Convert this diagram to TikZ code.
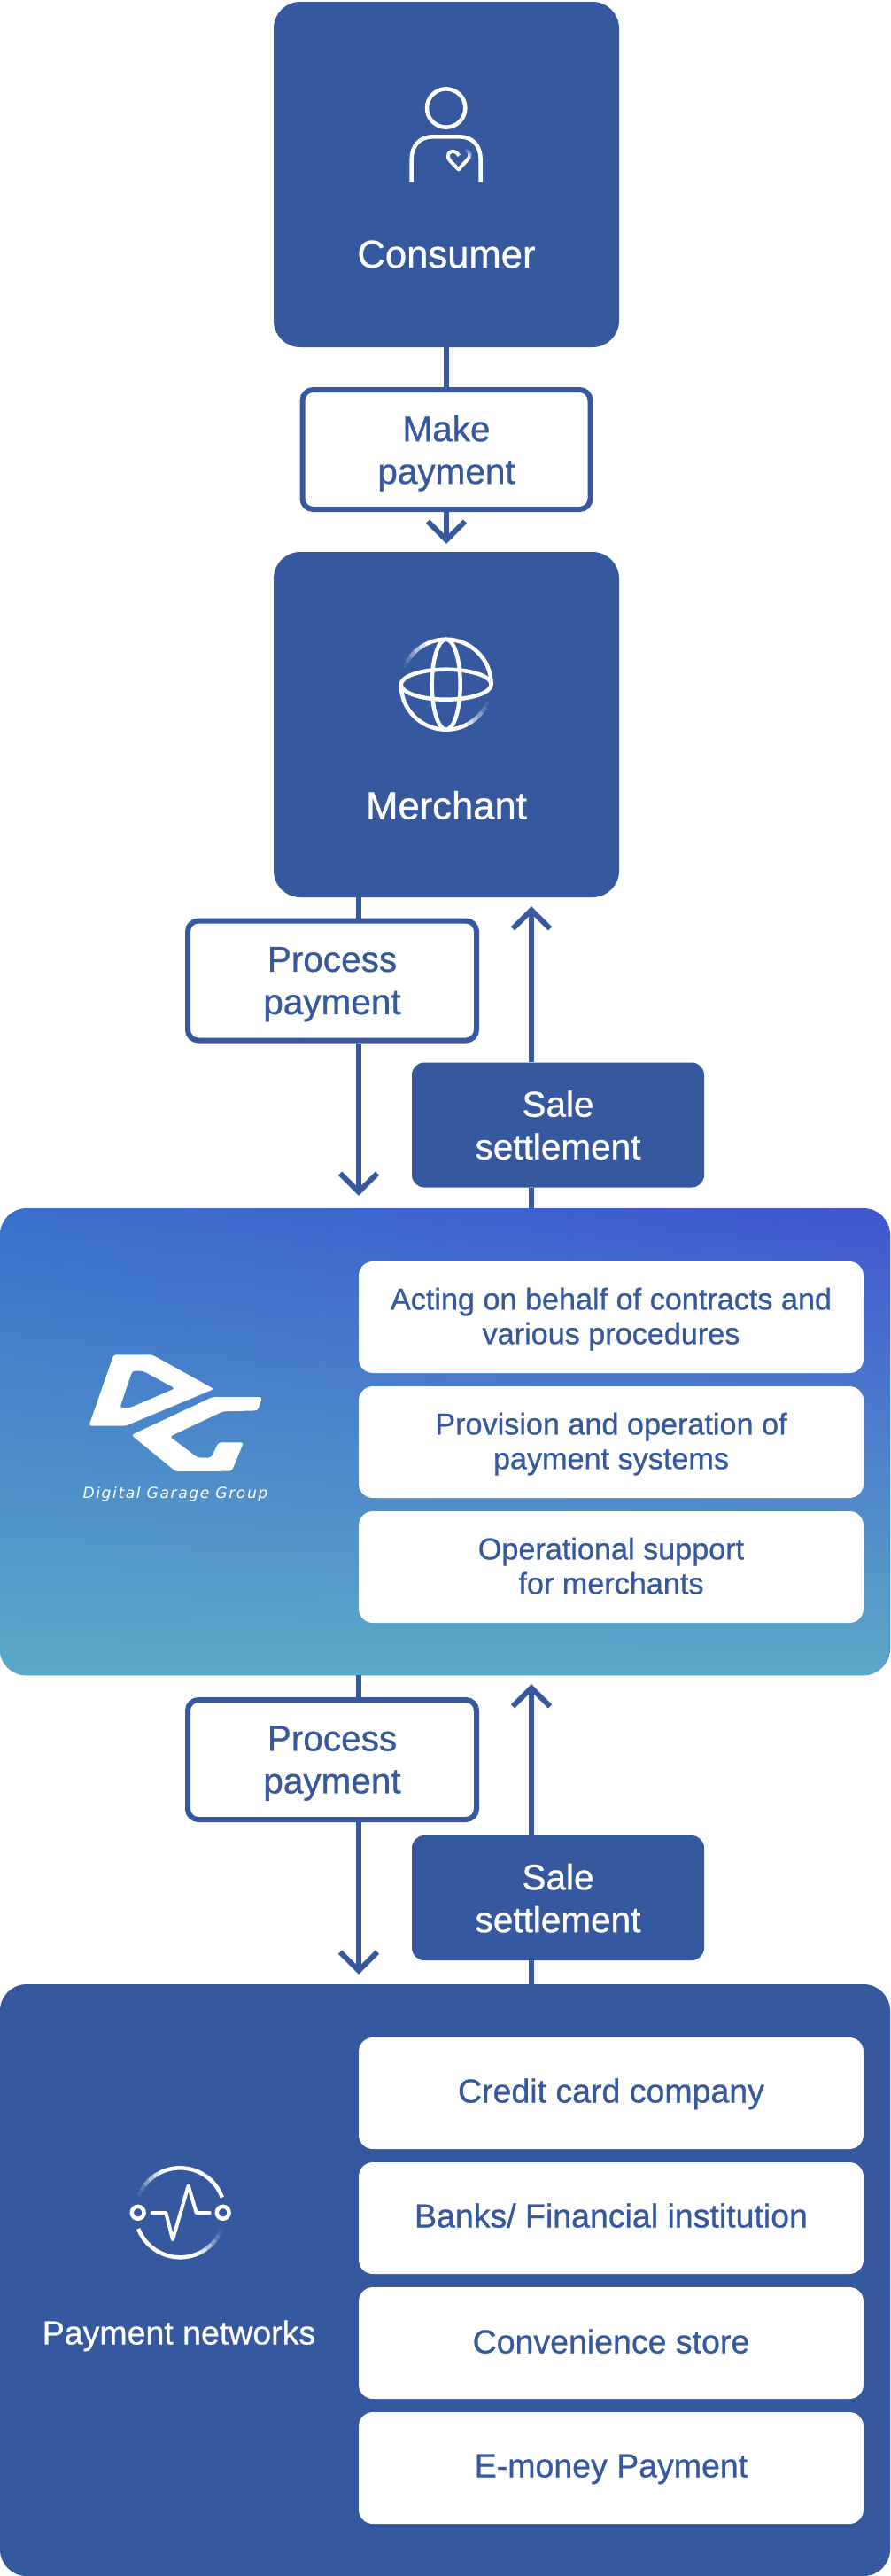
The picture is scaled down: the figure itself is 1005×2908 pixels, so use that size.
\documentclass[tikz,border=0pt]{standalone}
\usepackage{fontspec}
\setmainfont[FakeBold=0.7]{Liberation Sans}
\newfontfamily\logofont[LetterSpace=9]{DejaVu Sans}
\usetikzlibrary{arrows.meta,fadings}
\definecolor{dgblue}{HTML}{36589E}
\definecolor{dgleft}{HTML}{3A70CC}
\definecolor{dgright}{HTML}{4156D0}
\definecolor{dgteal}{HTML}{5CA9C8}
\tikzfading[name=dgfade,top color=transparent!100,middle color=transparent!82,bottom color=transparent!0]
\newcommand\headfont{\fontsize{43.6}{48}\selectfont}
\newcommand\tagfont{\fontsize{40.5}{48}\selectfont}
\newcommand\cardfont{\fontsize{34.2}{39}\selectfont}
\newcommand\netfont{\fontsize{37.5}{39}\selectfont}
\tikzset{
  tilebox/.style={fill=dgblue,text=white,rounded corners=30pt,inner sep=0pt,
    minimum width=390pt,minimum height=390pt},
  fieldbox/.style={rounded corners=30pt,inner sep=0pt,minimum width=1005pt},
  outlinetag/.style={draw=dgblue,line width=6pt,fill=white,text=dgblue,rounded corners=12pt,
    inner sep=0pt,align=center,font=\tagfont,text depth=0pt},
  solidtag/.style={fill=dgblue,text=white,rounded corners=14pt,inner sep=0pt,
    minimum width=330pt,minimum height=141pt,align=center,font=\tagfont,text depth=0pt},
  whitecard/.style={fill=white,text=dgblue,rounded corners=16pt,inner sep=0pt,
    minimum width=570pt,minimum height=126pt,align=center,text depth=3pt},
  link/.style={draw=dgblue,line width=6pt},
  flow/.style={link,-{Straight Barb[length=21pt,width=42pt]}},
  icon/.style={draw=white,line width=4.5pt,line join=round},
}
\begin{document}
\begin{tikzpicture}[x=1pt,y=-1pt]
\useasboundingbox (0,0) rectangle (1005,2908);
\coordinate (midlane) at (504,0);
\coordinate (leftlane) at (405,0);
\coordinate (rightlane) at (600,0);
% top tiles
\node[tilebox] (consumer) at (504,197) {};
\node[text=white,font=\headfont] (consumertxt) at (504,287) {Consumer};
\node[outlinetag,minimum width=325pt,minimum height=135pt] (makepay) at (504,507.5) {Make\\payment};
\node[tilebox] (merchant) at (504,818) {};
\node[text=white,font=\headfont] (merchanttxt) at (504,909) {Merchant};
% digital garage field
\node[fieldbox,minimum height=527pt,shade,left color=dgleft,right color=dgright] (dgfield) at (502.5,1627.5) {};
\fill[dgteal,rounded corners=30pt,path fading=dgfade] (dgfield.south west) rectangle (dgfield.north east);
\node[whitecard,font=\cardfont] (cardA) at (690,1487) {Acting on behalf of contracts and\\various procedures};
\node[whitecard,font=\cardfont] (cardB) at (690,1628) {Provision and operation of\\payment systems};
\node[whitecard,font=\cardfont] (cardC) at (690,1769) {Operational support\\for merchants};
% payment networks
\node[fieldbox,minimum height=668pt,fill=dgblue] (netfield) at (502.5,2574) {};
\node[whitecard,font=\netfont,text height=27pt,text depth=6pt] (cardD) at (690,2363) {Credit card company};
\node[whitecard,font=\netfont,text height=27pt,text depth=6pt] (cardE) at (690,2504) {Banks/ Financial institution};
\node[whitecard,font=\netfont,text height=27pt,text depth=4pt] (cardF) at (690,2645) {Convenience store};
\node[whitecard,font=\netfont,text height=27pt,text depth=6pt] (cardG) at (690,2786) {E-money Payment};
\node[text=white,font=\netfont,text height=27pt,text depth=0pt] (nettxt) at (202,2633) {Payment networks};
% tags between the fields
\node[outlinetag,minimum width=326pt,minimum height=135pt] (procA) at (375,1107) {Process\\payment};
\node[solidtag] (saleA) at (630,1270) {Sale\\settlement};
\node[outlinetag,minimum width=326pt,minimum height=135pt] (procB) at (375,1986.5) {Process\\payment};
\node[solidtag] (saleB) at (630,2142.5) {Sale\\settlement};
% connectors
\draw[link] (consumer.south -| midlane) -- (makepay.north -| midlane);
\draw[flow,shorten >=9pt] (makepay.south -| midlane) -- (merchant.north -| midlane);
\draw[link] (merchant.south -| leftlane) -- (procA.north -| leftlane);
\draw[flow,shorten >=14pt] (procA.south -| leftlane) -- (dgfield.north -| leftlane);
\draw[link] (dgfield.north -| rightlane) -- (saleA.south -| rightlane);
\draw[flow,shorten >=10pt] (saleA.north -| rightlane) -- (merchant.south -| rightlane);
\draw[link] (dgfield.south -| leftlane) -- (procB.north -| leftlane);
\draw[flow,shorten >=11pt] (procB.south -| leftlane) -- (netfield.north -| leftlane);
\draw[link] (netfield.north -| rightlane) -- (saleB.south -| rightlane);
\draw[flow,shorten >=10pt] (saleB.north -| rightlane) -- (dgfield.south -| rightlane);
% person
\begin{scope}[shift={(300,0)},scale=1/3]
\draw[icon] (611,366) circle (65);
\draw[icon] (494,617) -- (494,540) .. controls (494,495) and (520,463) .. (565,463) -- (657,463)
  .. controls (702,463) and (728,495) .. (728,540) -- (728,617);
\draw[icon,line width=4pt] (655,527) .. controls (648,510) and (618,503) .. (618,530)
  .. controls (618,540) and (625,545) .. (653,574) -- (686,538);
\foreach \o/\a/\b/\c/\d in {.9/686/538/691/528,.6/691/528/690/518,.35/690/518/684/511,.15/684/511/676/507}
  \draw[icon,line width=4pt,opacity=\o] (\a,\b) -- (\c,\d);
\end{scope}
% globe
\begin{scope}[shift={(503.7,772.7)}]
\draw[icon] (51,0) arc[start angle=0,end angle=-118,radius=51];
\draw[icon] (-51,0) arc[start angle=-180,end angle=-298,radius=51];
\draw[icon] (0,0) ellipse (51 and 17);
\draw[icon] (0,0) ellipse (16 and 51);
\foreach \o/\s in {.8/0,.6/1,.4/2,.2/3,.08/4}{
  \draw[icon,opacity=\o] (-118-\s*8:51) arc[start angle=-118-\s*8,end angle=-126-\s*8,radius=51];
  \draw[icon,opacity=\o] (-298-\s*8:51) arc[start angle=-298-\s*8,end angle=-306-\s*8,radius=51];
}
\end{scope}
% dg logo
\begin{scope}[shift={(60,1480)},scale=1/3]
\fill[white,rounded corners=3pt,even odd rule] (205,148) -- (335,148) -- (545,264) -- (245,389) -- (121,389) -- cycle
  (268,203) -- (305,203) -- (413,262) -- (262,327) -- (226,327) -- cycle;
\fill[white,rounded corners=3pt] (540,291) -- (708,291) -- (693,337) -- (575,340) -- (395,425) -- (490,497) -- (535,497)
  -- (560,445) -- (645,445) -- (605,542) -- (415,543) -- (265,420) -- cycle;
\end{scope}
\node[text=white,font={\logofont\itshape\fontsize{17.2}{20}\selectfont}] (dgname) at (198,1687) {Digital Garage Group};
% network icon
\begin{scope}[shift={(203.3,2497.8)}]
\draw[icon] (-20:50.5) arc[start angle=-20,end angle=-118,radius=50.5];
\draw[icon] (-201:50.5) arc[start angle=-201,end angle=-298,radius=50.5];
\foreach \o/\s in {.8/0,.6/1,.4/2,.2/3,.08/4}{
  \draw[icon,opacity=\o] (-118-\s*8:50.5) arc[start angle=-118-\s*8,end angle=-126-\s*8,radius=50.5];
  \draw[icon,opacity=\o] (-298-\s*8:50.5) arc[start angle=-298-\s*8,end angle=-306-\s*8,radius=50.5];
}
\draw[icon] (-47.6,0) circle (6.9);
\draw[icon] (48.4,0) circle (6.9);
\end{scope}
\begin{scope}[shift={(100,2410)},scale=1/3]
\draw[icon,line width=4pt,line cap=round] (215,264) -- (262,264) -- (285,355) -- (338,172) -- (365,264) -- (410,264);
\end{scope}
\end{tikzpicture}
\end{document}
